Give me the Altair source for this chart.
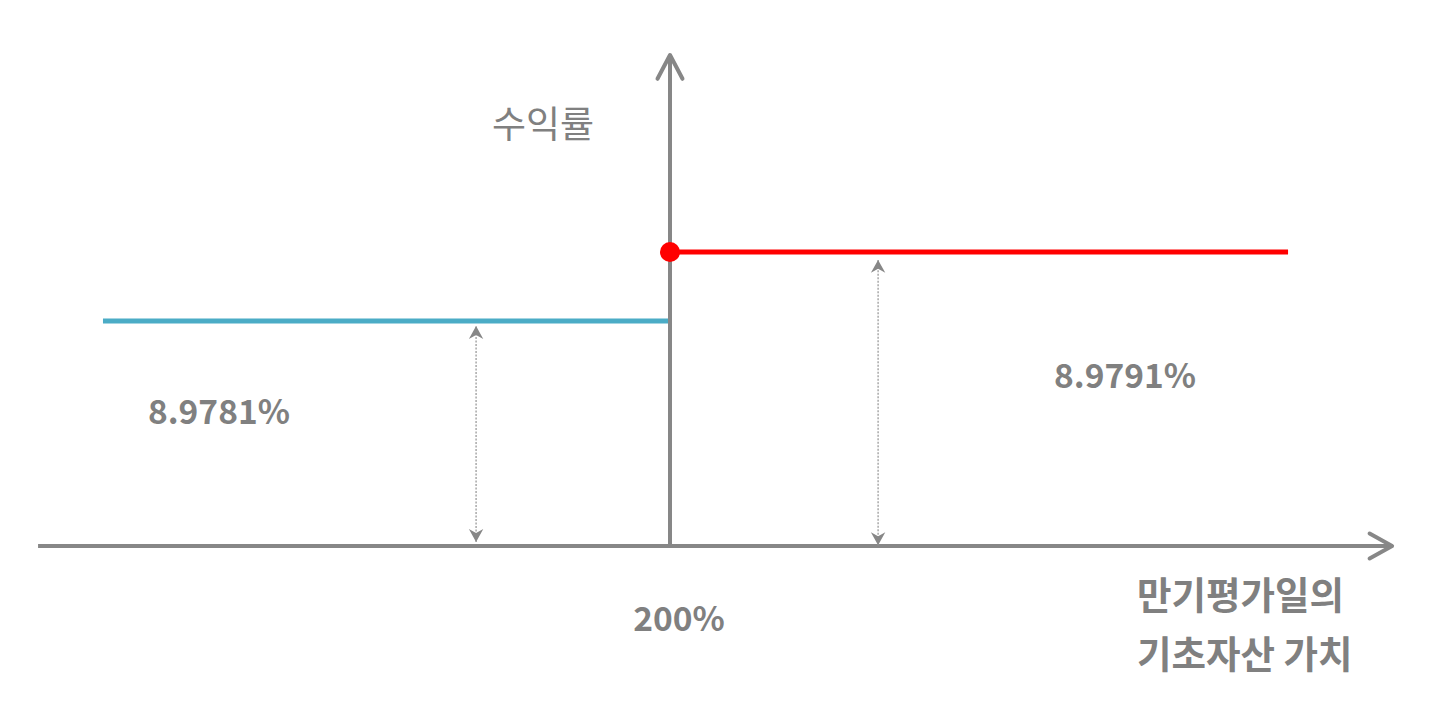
import altair as alt
import pandas as pd

# ---- data (schematic payoff diagram) ----
strike = 200                 # 만기평가일의 기초자산 가치 기준 (%)
x_left, x_right = 0, 418     # extent of payoff segments
blue_level = 7.65            # schematic level for 8.9781%
red_level = 10.0             # schematic level for 8.9791%
labels_rate = ["8.9781%", "8.9791%"]
strike_label = "200%"
y_title = "수익률"
x_title = ["만기평가일의", "기초자산 가치"]

# axis extents
h_axis = (-22.9, 454.7)
v_axis_top = 16.7

# dotted measurement arrows (x position, top tip, bottom tip)
meas_x = [131.6, 273.4]
meas_top = [7.48, 9.73]
meas_bot = [0.14, 0.03]

GRAY = "#878787"
TXT = "#808080"

xs = alt.Scale(domain=[-33.5, 472.3], nice=False, zero=False)
ys = alt.Scale(domain=[-5.51, 18.30], nice=False, zero=False)
W, H = 1434, 700


def X(f="x"):
    return alt.X(f"{f}:Q", scale=xs, axis=None)


def Y(f="y"):
    return alt.Y(f"{f}:Q", scale=ys, axis=None)


payoff = pd.DataFrame({
    "x": [x_left, strike], "x2": [strike, x_right],
    "y": [blue_level, red_level], "y2": [blue_level, red_level],
    "c": ["#4BACC6", "#FF0000"],
})
axes = pd.DataFrame({
    "x": [h_axis[0], strike], "x2": [h_axis[1], strike],
    "y": [0, 0], "y2": [0, v_axis_top],
})
meas = pd.DataFrame({"x": meas_x, "y": meas_bot, "y2": meas_top})

payoff_layer = alt.Chart(payoff).mark_rule(strokeWidth=5, strokeCap="butt").encode(
    x=X(), x2="x2:Q", y=Y(), y2="y2:Q", color=alt.Color("c:N", scale=None)
)
axes_layer = alt.Chart(axes).mark_rule(strokeWidth=4, color=GRAY, strokeCap="butt").encode(
    x=X(), x2="x2:Q", y=Y(), y2="y2:Q"
)
meas_layer = alt.Chart(meas).mark_rule(strokeWidth=1.3, color="#9a9a9a", strokeDash=[2, 1.5]).encode(
    x=X(), y=Y(), y2="y2:Q"
)
up_heads = alt.Chart(pd.DataFrame({"x": meas_x, "y": meas_top})).mark_point(
    shape="M0,0 L0.9,1.6 L0,1.1 L-0.9,1.6 Z", filled=True, color=GRAY, size=256, opacity=1
).encode(x=X(), y=Y())
down_heads = alt.Chart(pd.DataFrame({"x": meas_x, "y": meas_bot})).mark_point(
    shape="M0,0 L0.9,-1.6 L0,-1.1 L-0.9,-1.6 Z", filled=True, color=GRAY, size=256, opacity=1
).encode(x=X(), y=Y())

right_chev = alt.Chart(pd.DataFrame({"x": [h_axis[1]], "y": [0]})).mark_point(
    shape="M-1.8,-1 L0,0 L-1.8,1", filled=False, color=GRAY, strokeWidth=4,
    size=625, opacity=1, strokeJoin="round", strokeCap="round"
).encode(x=X(), y=Y())
up_chev = alt.Chart(pd.DataFrame({"x": [strike], "y": [v_axis_top]})).mark_point(
    shape="M-1,1.9 L0,0 L1,1.9", filled=False, color=GRAY, strokeWidth=4,
    size=625, opacity=1, strokeJoin="round", strokeCap="round"
).encode(x=X(), y=Y())

dot = alt.Chart(pd.DataFrame({"x": [strike], "y": [red_level]})).mark_point(
    shape="circle", filled=True, color="#FF0000", size=400, opacity=1
).encode(x=X(), y=Y())

ytitle = alt.Chart(pd.DataFrame({"x": [155.2], "y": [14.25], "t": [y_title]})).mark_text(
    font="Noto Sans CJK KR", fontSize=37, fontWeight="normal", color=TXT,
    align="center", baseline="middle"
).encode(x=X(), y=Y(), text="t:N")

bold_center = alt.Chart(pd.DataFrame({
    "x": [40.9, 360.5, 203.2], "y": [4.49, 5.71, -2.55],
    "t": [labels_rate[0], labels_rate[1], strike_label],
})).mark_text(
    font="Noto Sans CJK KR", fontSize=33.5, fontWeight="bold", color=TXT,
    align="center", baseline="middle"
).encode(x=X(), y=Y(), text="t:N")

bold_left = alt.Chart(pd.DataFrame({
    "x": [364.7, 364.7], "y": [-1.77, -3.78], "t": x_title,
})).mark_text(
    font="Noto Sans CJK KR", fontSize=37.5, fontWeight="bold", color=TXT,
    align="left", baseline="middle"
).encode(x=X(), y=Y(), text="t:N")

chart = alt.layer(
    payoff_layer, axes_layer, meas_layer, up_heads, down_heads,
    right_chev, up_chev, dot, ytitle, bold_center, bold_left
).properties(
    width=W, height=H, padding=0, autosize=alt.AutoSizeParams(type="none"),
    background="white"
).configure_view(stroke=None)

chart.save("out.html", embed_options={"renderer": "svg", "actions": False})
